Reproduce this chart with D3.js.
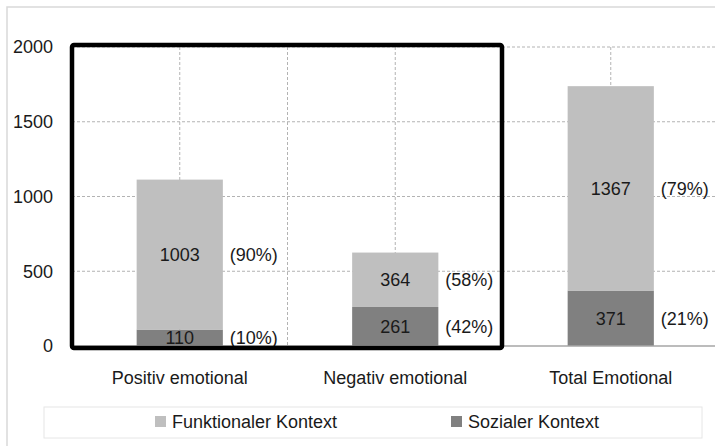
<!DOCTYPE html>
<html>
<head>
<meta charset="utf-8">
<script src="https://cdn.jsdelivr.net/npm/d3@7"></script>
<style>
  body { margin: 0; background: #fff; }
  text { font-family: "Liberation Sans", Arial, sans-serif; fill: #1a1a1a; }
</style>
</head>
<body>
<div id="chart"></div>
<script>
const categories = ["Positiv emotional", "Negativ emotional", "Total Emotional"];
const sozial = [110, 261, 371];
const funktional = [1003, 364, 1367];
const sozialPct = ["(10%)", "(42%)", "(21%)"];
const funktionalPct = ["(90%)", "(58%)", "(79%)"];
const yTicks = [0, 500, 1000, 1500, 2000];
const seriesNames = ["Funktionaler Kontext", "Sozialer Kontext"];

const colors = { funktional: "#bfbfbf", sozial: "#808080" };
const W = 715, H = 446;
const plot = { left: 72, right: 718.5, top: 47, bottom: 346 };
const fs = 18;

const svg = d3.select("#chart").append("svg").attr("width", W).attr("height", H);

// outer chart frame (cropped at right/bottom)
svg.append("rect")
  .attr("x", 7).attr("y", 7).attr("width", W + 20).attr("height", H + 20)
  .attr("fill", "none").attr("stroke", "#d9d9d9").attr("stroke-width", 1.5);

const x = d3.scaleBand().domain(categories)
  .range([plot.left, plot.right]).paddingInner(0.6).paddingOuter(0.3);
const y = d3.scaleLinear().domain([0, 2000]).range([plot.bottom, plot.top]);
const step = x.step();

// grid
const grid = svg.append("g");
grid.selectAll(".hg").data(yTicks.filter(d => d > 0)).join("line")
  .attr("x1", plot.left).attr("x2", plot.right)
  .attr("y1", d => y(d)).attr("y2", d => y(d))
  .attr("stroke", "#b3b3b3").attr("stroke-dasharray", "3,2");
const vgrid = [];
categories.forEach((c, i) => { vgrid.push(x(c) + x.bandwidth() / 2); vgrid.push(plot.left + step * (i + 1)); });
grid.selectAll(".vg").data(vgrid).join("line")
  .attr("x1", d => d).attr("x2", d => d)
  .attr("y1", y(2000)).attr("y2", y(0))
  .attr("stroke", "#b3b3b3").attr("stroke-dasharray", "3,2");

// y axis labels
svg.append("g")
  .attr("transform", `translate(${plot.left - 19},0)`)
  .call(d3.axisLeft(y).tickValues(yTicks).tickFormat(d3.format("d")).tickSize(0).tickPadding(0))
  .call(g => g.select(".domain").remove())
  .call(g => g.selectAll(".tick text").attr("font-size", fs + "px")
    .attr("font-family", "Liberation Sans, Arial, sans-serif").attr("fill", "#1a1a1a"));

// bars
const data = categories.map((c, i) => ({ c, s: sozial[i], f: funktional[i], sp: sozialPct[i], fp: funktionalPct[i] }));
const bars = svg.append("g");
bars.selectAll(".soz").data(data).join("rect")
  .attr("x", d => x(d.c)).attr("width", x.bandwidth())
  .attr("y", d => y(d.s)).attr("height", d => y(0) - y(d.s))
  .attr("fill", colors.sozial);
bars.selectAll(".fun").data(data).join("rect")
  .attr("x", d => x(d.c)).attr("width", x.bandwidth())
  .attr("y", d => y(d.s + d.f)).attr("height", d => y(d.s) - y(d.s + d.f))
  .attr("fill", colors.funktional);

// baseline
svg.append("line")
  .attr("x1", plot.left).attr("x2", plot.right)
  .attr("y1", y(0)).attr("y2", y(0))
  .attr("stroke", "#a6a6a6").attr("stroke-width", 1.5);

// value labels
const labels = svg.append("g").attr("font-size", fs + "px");
data.forEach(d => {
  const cx = x(d.c) + x.bandwidth() / 2;
  const rx = x(d.c) + x.bandwidth() + 7;
  const ys = y(d.s / 2), yf = y(d.s + d.f / 2);
  labels.append("text").attr("x", cx).attr("y", ys).attr("dy", "0.35em").attr("text-anchor", "middle").text(d.s);
  labels.append("text").attr("x", rx).attr("y", ys).attr("dy", "0.35em").text(d.sp);
  labels.append("text").attr("x", cx).attr("y", yf).attr("dy", "0.35em").attr("text-anchor", "middle").text(d.f);
  labels.append("text").attr("x", rx).attr("y", yf).attr("dy", "0.35em").text(d.fp);
});

// category labels
svg.append("g").selectAll("text").data(categories).join("text")
  .attr("x", d => x(d) + x.bandwidth() / 2).attr("y", 378).attr("dy", "0.35em")
  .attr("text-anchor", "middle").attr("font-size", fs + "px")
  .text(d => d);

// highlight box around the first two categories
svg.append("rect")
  .attr("x", plot.left).attr("y", y(2000) - 2)
  .attr("width", step * 2 - 1).attr("height", y(0) - y(2000) + 4)
  .attr("rx", 2)
  .attr("fill", "none").attr("stroke", "#000").attr("stroke-width", 4.5);

// legend
const lg = svg.append("g");
lg.append("rect").attr("x", 44).attr("y", 407).attr("width", 658).attr("height", 31)
  .attr("fill", "#fff").attr("stroke", "#e6e6e6");
const legendItems = [
  { name: seriesNames[0], color: colors.funktional, x: 155 },
  { name: seriesNames[1], color: colors.sozial, x: 451 }
];
legendItems.forEach(it => {
  lg.append("rect").attr("x", it.x).attr("y", 416).attr("width", 11).attr("height", 11).attr("fill", it.color);
  lg.append("text").attr("x", it.x + 17).attr("y", 422).attr("dy", "0.35em")
    .attr("font-size", fs + "px").text(it.name);
});
</script>
</body>
</html>
